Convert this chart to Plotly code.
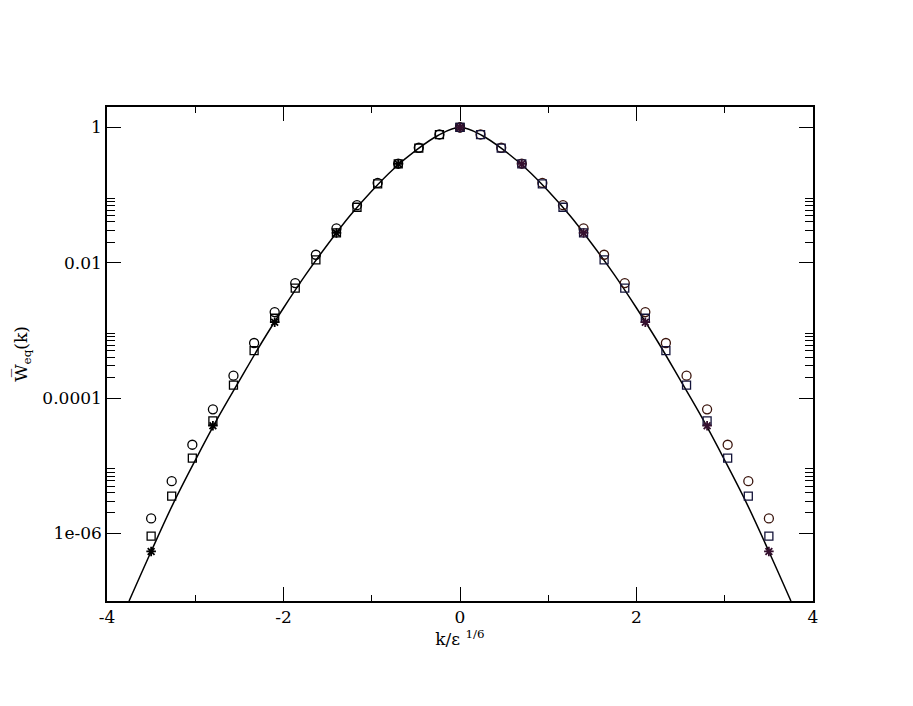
import plotly.graph_objects as go

# data (k / eps^(1/6) and W_eq(k))
# solid curve
line_x = [-3.75, -3.5, -3.25, -3.0, -2.75, -2.5, -2.25, -2.0, -1.75, -1.5, -1.25, -1.0, -0.75, -0.5, -0.25,
          0.0, 0.25, 0.5, 0.75, 1.0, 1.25, 1.5, 1.75, 2.0, 2.25, 2.5, 2.75, 3.0, 3.25, 3.5, 3.75]
line_y = [1.0e-7, 5.4e-7, 2.75e-6, 1.2e-5, 4.9e-5, 1.8e-4, 6.5e-4, 2.14e-3, 6.6e-3, 0.0186, 0.049, 0.115, 0.245, 0.457, 0.759,
          1.0, 0.759, 0.457, 0.245, 0.115, 0.049, 0.0186, 6.6e-3, 2.14e-3, 6.5e-4, 1.8e-4, 4.9e-5, 1.2e-5, 2.75e-6, 5.4e-7, 1.0e-7]

# symbols, right half (k >= 0)
pts_x = [0.0, 0.233, 0.467, 0.7, 0.933, 1.167, 1.4, 1.633, 1.867, 2.1, 2.333, 2.567, 2.8, 3.033, 3.267, 3.5]
circ_y = [1.0, 0.785, 0.50, 0.292, 0.151, 0.0708, 0.0321, 0.0131, 5.0e-3, 1.86e-3, 6.5e-4, 2.14e-4, 6.8e-5, 2.04e-5, 5.9e-6, 1.66e-6]
sq_y = [1.0, 0.78, 0.495, 0.288, 0.146, 0.066, 0.0275, 0.011, 4.2e-3, 1.51e-3, 5.0e-4, 1.55e-4, 4.6e-5, 1.29e-5, 3.55e-6, 9.1e-7]
star_x = [0.0, 0.7, 1.4, 2.1, 2.8, 3.5]
star_y = [1.0, 0.288, 0.0275, 1.32e-3, 3.9e-5, 5.4e-7]

# symbols, left half (k <= 0)
pts_x_neg = [-3.5, -3.267, -3.033, -2.8, -2.567, -2.333, -2.1, -1.867, -1.633, -1.4, -1.167, -0.933, -0.7, -0.467, -0.233, 0.0]
circ_y_neg = [1.66e-6, 5.9e-6, 2.04e-5, 6.8e-5, 2.14e-4, 6.5e-4, 1.86e-3, 5.0e-3, 0.0131, 0.0321, 0.0708, 0.151, 0.292, 0.50, 0.785, 1.0]
sq_y_neg = [9.1e-7, 3.55e-6, 1.29e-5, 4.6e-5, 1.55e-4, 5.0e-4, 1.51e-3, 4.2e-3, 0.011, 0.0275, 0.066, 0.146, 0.288, 0.495, 0.78, 1.0]
star_x_neg = [-3.5, -2.8, -2.1, -1.4, -0.7, 0.0]
star_y_neg = [5.4e-7, 3.9e-5, 1.32e-3, 0.0275, 0.288, 1.0]

FONT = "DejaVu Serif"

fig = go.Figure()

fig.add_trace(go.Scatter(x=line_x, y=line_y, mode="lines", line_shape="spline",
                         line=dict(color="black", width=1.5), showlegend=False))

# left half drawn in black, right half in dark colours
for xs, cy, sy, stx, sty, cols in [
        (pts_x_neg, circ_y_neg, sq_y_neg, star_x_neg, star_y_neg, ("black", "black", "black")),
        (pts_x, circ_y, sq_y, star_x, star_y, ("#3a140c", "#14143a", "#35102f"))]:
    fig.add_trace(go.Scatter(x=xs, y=cy, mode="markers", showlegend=False,
                             marker=dict(symbol="circle-open", size=9, color=cols[0], line=dict(width=1.3))))
    fig.add_trace(go.Scatter(x=xs, y=sy, mode="markers", showlegend=False,
                             marker=dict(symbol="square-open", size=8, color=cols[1], line=dict(width=1.3))))
    fig.add_trace(go.Scatter(x=stx, y=sty, mode="markers", showlegend=False,
                             marker=dict(symbol="asterisk-open", size=8, color=cols[2], line=dict(width=1.8))))

minor_vals = [m * 10.0 ** e for e in (-2, -4, -6) for m in range(2, 10)]
tick_font = dict(family=FONT, size=17, color="black")

fig.update_layout(
    template="none",
    width=913, height=706,
    margin=dict(l=99, r=108, t=99, b=113),
    paper_bgcolor="white", plot_bgcolor="white",
    font=dict(family=FONT, size=17, color="black"),
    xaxis=dict(
        range=[-4, 4], tickvals=[-4, -2, 0, 2, 4], ticktext=["-4", "-2", "0", "2", "4"],
        tickfont=tick_font,
        ticks="inside", ticklen=14, tickwidth=1.2, tickcolor="black",
        minor=dict(tickvals=[-3, -1, 1, 3], ticks="inside", ticklen=6, tickwidth=1.2, tickcolor="black"),
        showline=True, linecolor="black", linewidth=1.5, mirror="ticks",
        showgrid=False, zeroline=False,
        title=dict(text="k/ε <sup>1/6</sup>", standoff=2, font=tick_font),
    ),
    yaxis=dict(
        type="log", range=[-7, 0.30103],
        tickvals=[1, 0.01, 1e-4, 1e-6], ticktext=["1", "0.01", "0.0001", "1e-06"],
        tickfont=tick_font,
        ticks="inside", ticklen=14, tickwidth=1.2, tickcolor="black",
        minor=dict(tickmode="array", tickvals=minor_vals, ticks="inside", ticklen=8, tickwidth=1.2,
                   tickcolor="black"),
        showline=True, linecolor="black", linewidth=1.5, mirror="ticks",
        showgrid=False, zeroline=False,
        title=dict(text="W\u0305<sub>eq</sub>(k)", standoff=10, font=tick_font),
    ),
)

fig.write_html("out.html")
